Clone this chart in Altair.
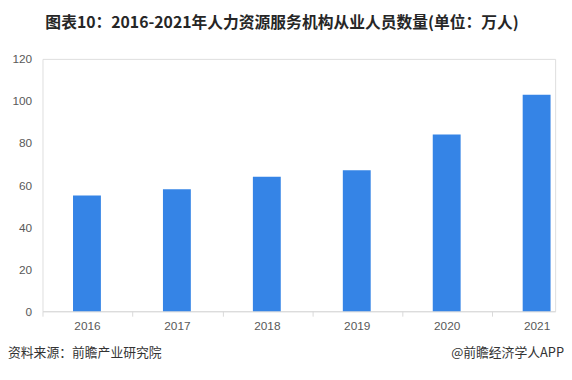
import altair as alt
import pandas as pd

years = ["2016", "2017", "2018", "2019", "2020", "2021"]
values = [55, 58, 64, 67, 84, 103]
y_ticks = [0, 20, 40, 60, 80, 100, 120]

title_text = "图表10：2016-2021年人力资源服务机构从业人员数量(单位：万人)"
source_text = "资料来源：前瞻产业研究院"
brand_text = "@前瞻经济学人APP"

df = pd.DataFrame({"year": years, "value": values})

W, H = 520, 256
FONT = "Noto Sans CJK SC"
NUMFONT = "Liberation Sans"

bars = alt.Chart(df).mark_bar(color="#3584e6").encode(
    x=alt.X(
        "year:N",
        sort=years,
        title=None,
        scale=alt.Scale(paddingInner=0.69, paddingOuter=0.195, align=0.87, round=False),
        axis=alt.Axis(
            labelAngle=0,
            labelColor="#595959",
            labelFont=NUMFONT,
            labelFontSize=12,
            labelPadding=5,
            domainColor="#d9d9d9",
            tickColor="#d9d9d9",
            tickSize=5,
            tickOffset=-45,
            labelOffset=45,
            tickExtra=True,
            grid=False,
        ),
    ),
    y=alt.Y(
        "value:Q",
        title=None,
        scale=alt.Scale(domain=[0, 120], nice=False),
        axis=alt.Axis(
            values=y_ticks,
            labelColor="#595959",
            labelFont=NUMFONT,
            labelFontSize=12,
            labelPadding=11,
            ticks=False,
            domain=False,
            grid=False,
        ),
    ),
)

title = alt.Chart(pd.DataFrame({"t": [title_text]})).mark_text(
    font=FONT, fontSize=16, fontWeight="bold", color="#262626",
    align="center", baseline="middle",
).encode(text="t:N", x=alt.value(243), y=alt.value(-36))

source = alt.Chart(pd.DataFrame({"t": [source_text]})).mark_text(
    font=FONT, fontSize=13, color="#333333",
    align="left", baseline="middle",
).encode(text="t:N", x=alt.value(-35), y=alt.value(298))

brand = alt.Chart(pd.DataFrame({"t": [brand_text]})).mark_text(
    font=FONT, fontSize=13, color="#333333",
    align="right", baseline="middle",
).encode(text="t:N", x=alt.value(529), y=alt.value(298))

chart = alt.layer(bars, title, source, brand).properties(
    width=W,
    height=H,
    padding={"left": 35, "top": 49, "right": 9, "bottom": 59},
    autosize=alt.AutoSizeParams(type="none"),
).configure_view(stroke=None).configure(background="white")

chart.save("out.html", embed_options={"renderer": "svg", "actions": False})
